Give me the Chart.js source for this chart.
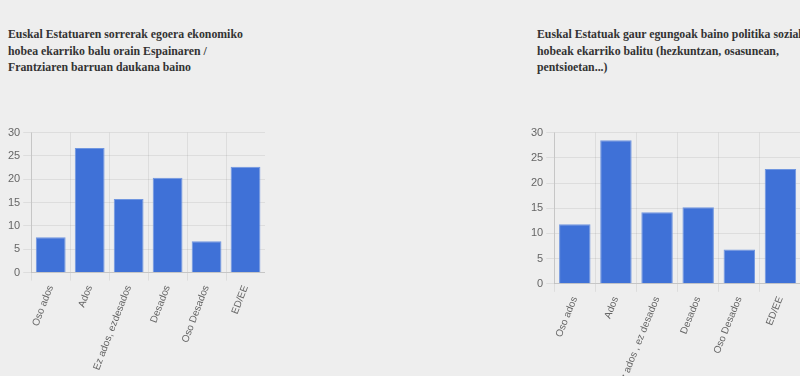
<!DOCTYPE html>
<html>
<head>
<meta charset="utf-8">
<script src="https://cdn.jsdelivr.net/npm/chart.js@4/dist/chart.umd.min.js"></script>
<style>
  body {
    margin: 0;
    width: 800px;
    height: 376px;
    overflow: hidden;
    background: #eeeeee;
    position: relative;
  }
  .title {
    position: absolute;
    top: 26px;
    font-family: "Liberation Serif", serif;
    font-weight: bold;
    font-size: 11.8px;
    line-height: 16.5px;
    color: #333333;
    white-space: nowrap;
  }
  .box {
    position: absolute;
  }
</style>
</head>
<body>
<div class="title" style="left: 8px;">Euskal Estatuaren sorrerak egoera ekonomiko<br>hobea ekarriko balu orain Espainaren /<br>Frantziaren barruan daukana baino</div>
<div class="title" style="left: 537px;">Euskal Estatuak gaur egungoak baino politika sozial<br>hobeak ekarriko balitu (hezkuntzan, osasunean,<br>pentsioetan...)</div>

<div class="box" style="left: 5px; top: 123px; width: 260px; height: 252px;"><canvas id="chartLeft"></canvas></div>
<div class="box" style="left: 528px; top: 123px; width: 273px; height: 268px;"><canvas id="chartRight"></canvas></div>

<script>
const categoriesLeft = ["Oso ados", "Ados", "Ez ados, ezdesados", "Desados", "Oso Desados", "ED/EE"];
const categoriesRight = ["Oso ados", "Ados", "Ez ados , ez desados", "Desados", "Oso Desados", "ED/EE"];

const valuesLeft = [7.6, 26.7, 15.8, 20.3, 6.7, 22.7];
const valuesRight = [11.8, 28.5, 14.2, 15.2, 6.8, 22.8];

const yTicks = [0, 5, 10, 15, 20, 25, 30];

function buildChart(canvasId, labels, values, rotation) {
  const context = document.getElementById(canvasId).getContext("2d");

  return new Chart(context, {
    type: "bar",
    data: {
      labels: labels,
      datasets: [
        {
          data: values,
          backgroundColor: "#3f71d7",
          borderColor: "#7096e0",
          borderWidth: 1,
          categoryPercentage: 0.85,
          barPercentage: 0.9
        }
      ]
    },
    options: {
      responsive: true,
      maintainAspectRatio: false,
      animation: false,
      plugins: {
        legend: { display: false },
        tooltip: { enabled: false }
      },
      scales: {
        x: {
          grid: {
            color: function (ctx) {
              return ctx.index >= labels.length ? "rgba(0,0,0,0)" : "rgba(0,0,0,0.07)";
            }
          },
          border: { color: "rgba(0,0,0,0.1)" },
          ticks: {
            color: "#666666",
            font: { size: 10 },
            minRotation: rotation,
            maxRotation: rotation
          }
        },
        y: {
          min: 0,
          max: 30,
          afterBuildTicks: function (axis) {
            axis.ticks = yTicks.map(function (v) { return { value: v }; });
          },
          grid: { color: "rgba(0,0,0,0.07)" },
          border: { color: "rgba(0,0,0,0.1)" },
          ticks: {
            color: "#666666",
            font: { size: 11 }
          }
        }
      }
    }
  });
}

buildChart("chartLeft", categoriesLeft, valuesLeft, 69);
buildChart("chartRight", categoriesRight, valuesRight, 68);
</script>
</body>
</html>
